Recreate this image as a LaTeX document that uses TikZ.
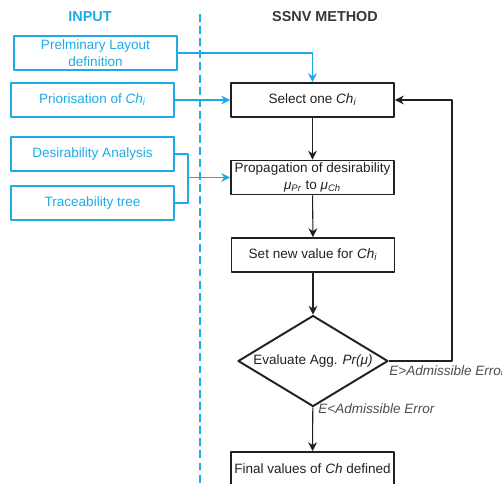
\documentclass[tikz,border=0pt]{standalone}
\usepackage{fontspec}
\setmainfont{Liberation Sans}
\usetikzlibrary{arrows.meta,shapes.geometric}
\definecolor{inblue}{HTML}{1CABE6}
\definecolor{ink}{HTML}{231F20}
\newcommand{\varCh}[1]{\textit{Ch\textsubscript{#1}}}
\newcommand{\muof}[1]{\textit{μ\textsubscript{#1}}}
\tikzset{
  every picture/.style={line join=round, >=Stealth},
  bodyfont/.style={font=\fontsize{7.7}{9.4}\selectfont},
  inbox/.style={bodyfont, draw=inblue, line width=1.5pt, text=inblue, minimum width=3.26cm, minimum height=0.68cm, align=center, inner sep=1pt},
  stepbox/.style={bodyfont, draw=ink, line width=1.1pt, text=ink, minimum width=3.26cm, minimum height=0.68cm, align=center, inner sep=1pt},
  decide/.style={bodyfont, diamond, draw=ink, line width=1.1pt, text=ink, minimum width=3cm, minimum height=1.82cm, aspect=1.65, inner sep=0pt},
  inflow/.style={draw=inblue, line width=0.6pt, -{Stealth[length=5pt,width=5pt]}},
  flow/.style={draw=ink, line width=0.6pt, -{Stealth[length=5pt,width=5pt]}},
  heading/.style={font=\fontsize{8.2}{10}\selectfont\bfseries},
  errlabel/.style={font=\fontsize{7.7}{9}\selectfont\itshape, text=ink!80, inner sep=0pt},
}

\begin{document}
\begin{tikzpicture}[x=0.02cm,y=-0.02cm]
\useasboundingbox (0,0) rectangle (502,483);
\clip (0,0) rectangle (502,483);
% headings and separator
\node[heading,text=inblue] (hin) at (90,17) {INPUT};
\node[heading,text=ink!90] (hssnv) at (325,17) {SSNV METHOD};
\draw[inblue,line width=0.7pt,dash pattern=on 4.5pt off 2.4pt] (200,14)--(200,483);
% input column
\node[inbox] (prelim) at (95.5,53) {Prelminary Layout\\definition};
\node[inbox] (prior) at (92.5,100) {Priorisation of \varCh{i}};
\node[inbox] (desir) at (92.5,154) {Desirability Analysis};
\node[inbox] (trace) at (92.5,203) {Traceability tree};
% method column
\node[stepbox] (select) at (312.5,100) {Select one \varCh{i}};
\node[stepbox] (propag) at (312.5,177.5) {Propagation of desirability\\\muof{Pr} to \muof{Ch}};
\node[stepbox] (setval) at (313,255) {Set new value for \varCh{i}};
\node[decide] (evalu) at (313,361) {Evaluate Agg. \textit{Pr(μ)}};
\node[stepbox] (final) at (312.5,469) {Final values of \textit{Ch} defined};
\coordinate (jn) at (188,177.5);
\coordinate (loop) at (452,230);
% connectors
\draw[inflow] (prelim.east) -| (select.north);
\draw[inflow] (prior.east) -- (select.west);
\draw[inblue,line width=0.6pt] (desir.east) -| (jn) |- (trace.east);
\draw[inflow] (jn) -- (propag.west);
\draw[flow] (select) -- (propag);
\draw[flow] (propag) -- (setval);
\draw[flow] (setval) -- (evalu);
\draw[flow] (evalu) -- (final);
\draw[flow] (evalu.east) -| (loop) |- (select.east);
\node[errlabel,anchor=west] (gt) at (389,371) {E>Admissible Error};
\node[errlabel,anchor=west] (lt) at (318,409) {E<Admissible Error};
\end{tikzpicture}
\end{document}
